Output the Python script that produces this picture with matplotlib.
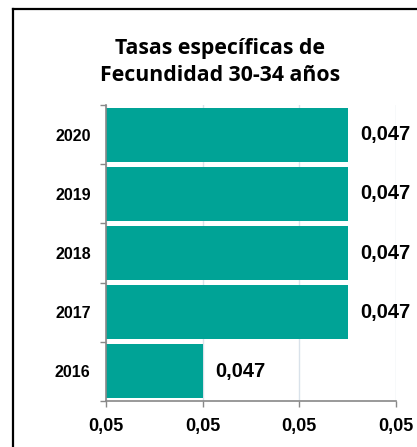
import matplotlib.pyplot as plt
from matplotlib.lines import Line2D
from matplotlib.ticker import FuncFormatter, FixedLocator

# Data
years = ["2016", "2017", "2018", "2019", "2020"]
values = [0.0468, 0.0471, 0.0471, 0.0471, 0.0471]
x_ticks = [0.0466, 0.0468, 0.0470, 0.0472]

bar_color = "#00A396"
plt.rcParams['font.family'] = ['Liberation Sans', 'DejaVu Sans']

fig = plt.figure(figsize=(4.17, 4.47), dpi=100)
ax = fig.add_axes([0.2542, 0.1029, 0.6954, 0.6622])

pos = list(range(len(years)))
ax.barh(pos, values, height=0.91, color=bar_color, zorder=3)

ax.set_xlim(x_ticks[0], x_ticks[-1])
ax.set_ylim(-0.5, len(years) - 0.5)
ax.set_xticks(x_ticks)
ax.xaxis.set_major_formatter(FuncFormatter(lambda v, p: f"{v:.2f}".replace('.', ',')))
ax.set_yticks(pos)
ax.set_yticklabels(years)
ax.yaxis.set_minor_locator(FixedLocator([i - 0.5 for i in range(len(years) + 1)]))

ax.tick_params(axis='x', length=4, width=1, color='#888888', pad=8,
               labelsize=13, direction='out')
ax.tick_params(axis='y', which='major', length=0, pad=11, labelsize=11.5)
ax.tick_params(axis='y', which='minor', length=4, width=1, color='#888888')
for lab in ax.get_xticklabels() + ax.get_yticklabels():
    lab.set_fontweight('bold')

ax.grid(axis='x', color='#D9E2EA', linewidth=1, zorder=0)
for s in ['top', 'right']:
    ax.spines[s].set_visible(False)
for s in ['left', 'bottom']:
    ax.spines[s].set_color('#888888')
    ax.spines[s].set_linewidth(1.2)
    ax.spines[s].set_zorder(4)

# Value labels
for p, v in zip(pos, values):
    ax.annotate(f"{v:.3f}".replace('.', ','), xy=(v, p), xytext=(9, 0),
                textcoords='offset points', ha='left', va='center',
                fontsize=14.5, fontweight='bold', annotation_clip=False)

# Title
fig.text(0.528, 0.861, "Tasas específicas de\nFecundidad 30-34 años",
         ha='center', va='center', fontsize=15.3, fontweight='bold',
         family=['Open Sans', 'DejaVu Sans'], linespacing=1.42)

# Outer frame (left and top edges visible)
fig.add_artist(Line2D([13 / 417, 13 / 417], [0, 1 - 9 / 447], color='black', lw=1.6,
                      transform=fig.transFigure))
fig.add_artist(Line2D([13 / 417, 1], [1 - 9 / 447, 1 - 9 / 447], color='black', lw=1.6,
                      transform=fig.transFigure))

fig.savefig("out.png", dpi=100)
